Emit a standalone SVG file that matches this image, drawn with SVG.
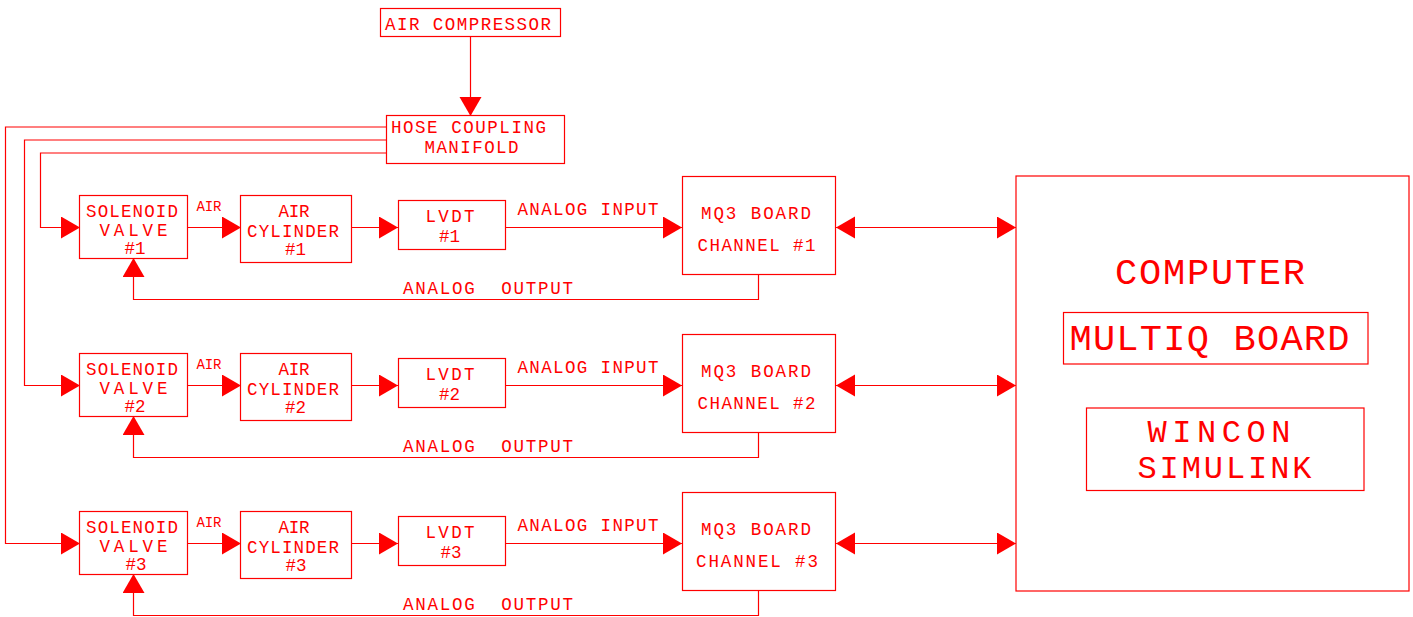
<svg xmlns="http://www.w3.org/2000/svg" width="1413" height="617" viewBox="0 0 1413 617">
<style>
  .box { fill: none; stroke: #ff0000; stroke-width: 1.2; }
  .ln { fill: none; stroke: #ff0000; stroke-width: 1.2; }
  .t { font-family: "Liberation Mono", "DejaVu Sans Mono", monospace; font-size: 17.5px; fill: #ff0000; text-anchor: middle; }
  .s { font-size: 14px; }
  .big { font-size: 37px; }
  .mid { font-size: 32px; }
</style>
<defs>
  <marker id="ah" markerUnits="userSpaceOnUse" markerWidth="20" markerHeight="23" refX="19" refY="11" orient="auto-start-reverse" viewBox="0 0 20 23">
    <path d="M0,0 L19,11 L0,22 Z" fill="#ff0000"/>
  </marker>
</defs>
<rect width="1413" height="617" fill="#ffffff"/>

<g id="connectors">
  <path class="ln" d="M470.5,36 V116" marker-end="url(#ah)"/>
  <path class="ln" d="M387,153 H40.5 V227.5 H80" marker-end="url(#ah)"/>
  <path class="ln" d="M387,140 H24.5 V385.5 H80" marker-end="url(#ah)"/>
  <path class="ln" d="M387,127 H5.5 V543.5 H80" marker-end="url(#ah)"/>
  <g id="row1-links">
    <path class="ln" d="M187,227.5 H241" marker-end="url(#ah)"/>
    <path class="ln" d="M352,227.5 H398" marker-end="url(#ah)"/>
    <path class="ln" d="M506,227.5 H682" marker-end="url(#ah)"/>
    <path class="ln" d="M836,227.5 H1016" marker-start="url(#ah)" marker-end="url(#ah)"/>
    <path class="ln" d="M758.5,274 V299.5 H133.5 V258" marker-end="url(#ah)"/>
  </g>
  <g id="row2-links" transform="translate(0,158)">
    <path class="ln" d="M187,227.5 H241" marker-end="url(#ah)"/>
    <path class="ln" d="M352,227.5 H398" marker-end="url(#ah)"/>
    <path class="ln" d="M506,227.5 H682" marker-end="url(#ah)"/>
    <path class="ln" d="M836,227.5 H1016" marker-start="url(#ah)" marker-end="url(#ah)"/>
    <path class="ln" d="M758.5,274 V299.5 H133.5 V258" marker-end="url(#ah)"/>
  </g>
  <g id="row3-links" transform="translate(0,316)">
    <path class="ln" d="M187,227.5 H241" marker-end="url(#ah)"/>
    <path class="ln" d="M352,227.5 H398" marker-end="url(#ah)"/>
    <path class="ln" d="M506,227.5 H682" marker-end="url(#ah)"/>
    <path class="ln" d="M836,227.5 H1016" marker-start="url(#ah)" marker-end="url(#ah)"/>
    <path class="ln" d="M758.5,274 V299.5 H133.5 V258" marker-end="url(#ah)"/>
  </g>
  <g id="connector-labels">
    <text class="t s" x="209" y="211" textLength="25">AIR</text>
    <text class="t" x="588" y="215" textLength="141">ANALOG INPUT</text>
    <text class="t" x="488" y="294" textLength="170" xml:space="preserve">ANALOG  OUTPUT</text>
    <text class="t s" x="209" y="369" textLength="25">AIR</text>
    <text class="t" x="588" y="373" textLength="141">ANALOG INPUT</text>
    <text class="t" x="488" y="452" textLength="170" xml:space="preserve">ANALOG  OUTPUT</text>
    <text class="t s" x="209" y="527" textLength="25">AIR</text>
    <text class="t" x="588" y="531" textLength="141">ANALOG INPUT</text>
    <text class="t" x="488" y="610" textLength="170" xml:space="preserve">ANALOG  OUTPUT</text>
  </g>
</g>

<g id="air-compressor">
  <rect class="box" x="380.5" y="8.5" width="180" height="28"/>
  <text class="t" x="468" y="29.5" textLength="166">AIR COMPRESSOR</text>
</g>
<g id="hose-coupling-manifold">
  <rect class="box" x="386.5" y="115.5" width="178" height="48"/>
  <text class="t" x="468.5" y="133" textLength="155">HOSE COUPLING</text>
  <text class="t" x="471.5" y="153" textLength="94">MANIFOLD</text>
</g>

<g id="solenoid-valve-1">
  <rect class="box" x="79.5" y="195.5" width="108" height="63"/>
  <text class="t" x="132" y="216.5" textLength="92">SOLENOID</text>
  <text class="t" x="133.5" y="236" textLength="68">VALVE</text>
  <text class="t" x="135" y="254">#1</text>
</g>
<g id="air-cylinder-1">
  <rect class="box" x="240.5" y="195.5" width="111" height="67"/>
  <text class="t" x="294" y="217" textLength="31">AIR</text>
  <text class="t" x="293" y="236.5" textLength="92">CYLINDER</text>
  <text class="t" x="295.5" y="255">#1</text>
</g>
<g id="lvdt-1">
  <rect class="box" x="398.5" y="200.5" width="107" height="49"/>
  <text class="t" x="450" y="222" textLength="49">LVDT</text>
  <text class="t" x="449.5" y="242">#1</text>
</g>
<g id="mq3-board-1">
  <rect class="box" x="682.5" y="176.5" width="153" height="98"/>
  <text class="t" x="756" y="219" textLength="110">MQ3 BOARD</text>
  <text class="t" x="756.5" y="250.5" textLength="118">CHANNEL #1</text>
</g>

<g id="solenoid-valve-2" transform="translate(0,158)">
  <rect class="box" x="79.5" y="195.5" width="108" height="63"/>
  <text class="t" x="132" y="216.5" textLength="92">SOLENOID</text>
  <text class="t" x="133.5" y="236" textLength="68">VALVE</text>
  <text class="t" x="135" y="254">#2</text>
</g>
<g id="air-cylinder-2" transform="translate(0,158)">
  <rect class="box" x="240.5" y="195.5" width="111" height="67"/>
  <text class="t" x="294" y="217" textLength="31">AIR</text>
  <text class="t" x="293" y="236.5" textLength="92">CYLINDER</text>
  <text class="t" x="295.5" y="255">#2</text>
</g>
<g id="lvdt-2" transform="translate(0,158)">
  <rect class="box" x="398.5" y="200.5" width="107" height="49"/>
  <text class="t" x="450" y="222" textLength="49">LVDT</text>
  <text class="t" x="449.5" y="242">#2</text>
</g>
<g id="mq3-board-2" transform="translate(0,158)">
  <rect class="box" x="682.5" y="176.5" width="153" height="98"/>
  <text class="t" x="756" y="219" textLength="110">MQ3 BOARD</text>
  <text class="t" x="756.5" y="250.5" textLength="118">CHANNEL #2</text>
</g>

<g id="solenoid-valve-3" transform="translate(0,316)">
  <rect class="box" x="79.5" y="195.5" width="108" height="63"/>
  <text class="t" x="132" y="216.5" textLength="92">SOLENOID</text>
  <text class="t" x="133.5" y="236" textLength="68">VALVE</text>
  <text class="t" x="136" y="254">#3</text>
</g>
<g id="air-cylinder-3" transform="translate(0,316)">
  <rect class="box" x="240.5" y="195.5" width="111" height="67"/>
  <text class="t" x="294" y="217" textLength="31">AIR</text>
  <text class="t" x="293" y="236.5" textLength="92">CYLINDER</text>
  <text class="t" x="296" y="255">#3</text>
</g>
<g id="lvdt-3" transform="translate(0,316)">
  <rect class="box" x="398.5" y="200.5" width="107" height="49"/>
  <text class="t" x="450" y="222" textLength="49">LVDT</text>
  <text class="t" x="451" y="242">#3</text>
</g>
<g id="mq3-board-3" transform="translate(0,316)">
  <rect class="box" x="682.5" y="176.5" width="153" height="98"/>
  <text class="t" x="756" y="219" textLength="110">MQ3 BOARD</text>
  <text class="t" x="757" y="250.5" textLength="122">CHANNEL #3</text>
</g>

<g id="computer">
  <rect class="box" x="1016" y="176" width="393" height="415"/>
  <text class="t big" x="1210" y="283.5" textLength="190">COMPUTER</text>
</g>
<g id="multiq-board">
  <rect class="box" x="1063.5" y="312.5" width="304.5" height="51.5"/>
  <text class="t big" x="1209.5" y="350" textLength="280">MULTIQ BOARD</text>
</g>
<g id="wincon-simulink">
  <rect class="box" x="1086.5" y="408" width="277.5" height="82.5"/>
  <text class="t mid" x="1219" y="442" textLength="143">WINCON</text>
  <text class="t mid" x="1224.5" y="478" textLength="174">SIMULINK</text>
</g>
</svg>
